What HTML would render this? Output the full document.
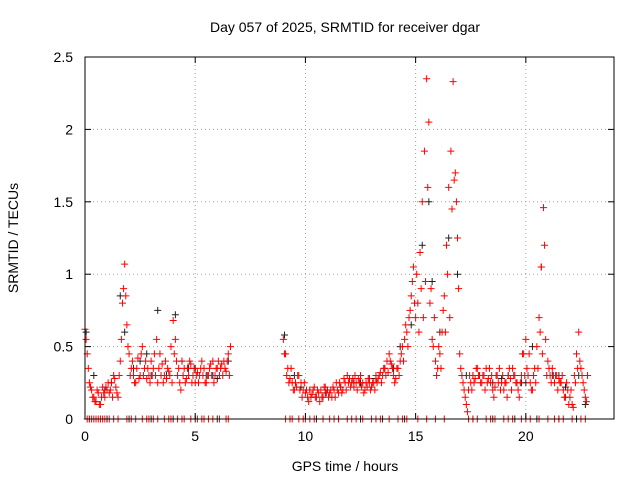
<!DOCTYPE html>
<html><head><meta charset="utf-8"><style>
body{margin:0;background:#fff;}
svg{display:block;font-family:"Liberation Sans",sans-serif;}
</style></head><body>
<svg id="chart" width="640" height="480">
<text x="345" y="32" font-size="14" text-anchor="middle">Day 057 of 2025, SRMTID for receiver dgar</text>
<text x="345" y="471" font-size="14" text-anchor="middle">GPS time / hours</text>
<text transform="translate(18,238) rotate(-90)" font-size="14" text-anchor="middle">SRMTID / TECUs</text>
<g id="grid"></g><g id="marks"></g><g id="axes"></g>
</svg>
<script>
const xTicks=[0,5,10,15,20];
const yTicks=[0,0.5,1,1.5,2,2.5];
const yTickLabels=["0","0.5","1","1.5","2","2.5"];
const seg1Start=0.0, seg2Start=9.0, seg1bStart=0.05, seg2bStart=9.05, sampleStep=0.1;
const redSeg1=[0.62,0.45,0.25,0.2,0.15,0.12,0.18,0.1,0.22,0.15,0.2,0.18,0.25,0.3,0.22,0.15,0.4,0.8,1.07,0.65,0.45,0.35,0.3,0.25,0.42,0.3,0.5,0.35,0.28,0.3,0.4,0.35,0.3,0.25,0.45,0.38,0.3,0.28,0.33,0.5,0.68,0.55,0.3,0.25,0.4,0.35,0.28,0.3,0.38,0.3,0.25,0.32,0.3,0.4,0.35,0.25,0.3,0.38,0.4,0.3,0.35,0.3,0.38,0.4,0.33,0.45,0.5];
const redSeg1b=[0.55,0.35,0.22,0.15,0.12,0.2,0.1,0.15,0.18,0.22,0.25,0.2,0.15,0.28,0.18,0.3,0.55,0.9,0.85,0.5,0.3,0.4,0.25,0.35,0.28,0.45,0.3,0.4,0.35,0.25,0.3,0.45,0.55,0.35,0.3,0.25,0.4,0.35,0.3,0.25,0.45,0.4,0.35,0.2,0.3,0.25,0.35,0.4,0.25,0.35,0.3,0.25,0.35,0.3,0.25,0.3,0.35,0.3,0.25,0.35,0.4,0.35,0.3,0.35,0.4,0.3];
const redSeg2=[0.55,0.45,0.35,0.28,0.25,0.2,0.22,0.3,0.25,0.2,
0.18,0.15,0.2,0.17,0.22,0.15,0.18,0.2,0.15,0.22,
0.2,0.18,0.15,0.2,0.25,0.18,0.22,0.2,0.25,0.3,
0.28,0.25,0.22,0.25,0.28,0.3,0.25,0.2,0.22,0.25,
0.22,0.25,0.3,0.28,0.32,0.3,0.35,0.4,0.45,0.38,
0.3,0.28,0.35,0.4,0.5,0.55,0.6,0.7,0.85,1.05,
0.7,0.8,1.15,1.5,1.85,2.35,2.05,0.9,0.5,0.4,
0.35,0.45,0.6,0.85,1.2,1.6,1.85,2.33,1.7,1.25,
0.45,0.3,0.2,0.1,0.2,0.25,0.3,0.28,0.35,0.3,
0.25,0.3,0.35,0.28,0.25,0.2,0.22,0.3,0.35,0.25,
0.2,0.25,0.3,0.28,0.35,0.3,0.25,0.15,0.3,0.45,
0.55,0.3,0.25,0.2,0.35,0.5,0.7,1.05,1.46,0.55,
0.4,0.3,0.35,0.25,0.3,0.28,0.25,0.2,0.15,0.2,
0.15,0.1,0.3,0.45,0.6,0.35,0.25,0.15,0.3];
const redSeg2b=[0.45,0.3,0.25,0.35,0.2,0.25,0.3,0.2,0.15,0.25,
0.2,0.12,0.15,0.2,0.15,0.2,0.12,0.15,0.22,0.18,
0.15,0.2,0.22,0.15,0.2,0.25,0.18,0.28,0.2,0.25,
0.22,0.28,0.3,0.2,0.25,0.22,0.18,0.25,0.28,0.2,
0.25,0.2,0.25,0.3,0.25,0.35,0.3,0.32,0.4,0.35,
0.25,0.35,0.3,0.45,0.4,0.65,0.5,0.75,0.95,0.8,
1.0,0.6,0.9,0.7,0.95,1.6,0.8,0.55,0.7,0.3,
0.5,0.35,0.75,0.6,1.0,0.7,1.45,1.65,1.5,0.9,
0.35,0.25,0.15,0.05,0.3,0.2,0.25,0.35,0.3,0.25,
0.3,0.2,0.25,0.35,0.3,0.15,0.3,0.25,0.2,0.3,
0.25,0.15,0.35,0.2,0.3,0.25,0.2,0.25,0.45,0.3,
0.35,0.45,0.2,0.3,0.25,0.35,0.6,0.45,1.2,0.3,
0.35,0.25,0.3,0.3,0.2,0.25,0.3,0.15,0.25,0.1,
0.2,0.08,0.25,0.35,0.4,0.3,0.2,0.12];
const redZeroHours=[0.1,0.2,0.3,0.4,0.5,0.6,0.7,0.8,0.9,1.1,1.3,1.5,1.9,2.1,2.3,2.6,2.8,2.9,3.1,3.3,3.6,3.8,3.9,4.2,4.4,4.5,4.8,5.1,5.3,5.4,5.6,5.8,6.1,6.4,6.5,9.1,9.3,9.4,9.7,9.9,10.0,10.2,10.4,10.8,11.1,11.3,11.5,11.9,12.1,12.3,12.6,13.0,13.2,13.4,13.8,14.2,14.4,14.6,15.1,15.5,15.9,16.3,17.4,17.6,17.8,18.2,18.4,18.6,19.0,19.2,19.4,19.8,20.0,20.2,20.6,21.0,21.3,21.5,21.7,22.1,22.5,22.7];
const blackHours=[0.05,0.4,0.9,1.6,1.8,2.2,2.8,3.3,3.7,4.1,4.4,5.0,5.5,6.0,6.5,9.05,9.5,10.2,10.9,11.6,12.2,12.9,13.6,14.3,14.8,15.3,15.6,15.75,16.1,16.5,16.9,17.3,17.9,18.5,19.2,19.8,20.3,20.7,21.2,21.8,22.4,22.7,1.2,2.5,3.0,4.7,5.8,9.8,11.0,12.5,13.2,14.0,17.6,18.9,20.0,21.5];
const blackValues=[0.6,0.3,0.2,0.85,0.6,0.35,0.45,0.75,0.3,0.72,0.4,0.35,0.3,0.28,0.4,0.58,0.3,0.2,0.18,0.22,0.25,0.28,0.35,0.5,0.65,1.2,1.5,0.95,0.6,1.25,1.0,0.3,0.3,0.25,0.3,0.25,0.5,1.05,0.3,0.22,0.3,0.1,0.25,0.4,0.3,0.35,0.3,0.22,0.2,0.25,0.28,0.35,0.3,0.28,0.25,0.3];
const blackZeroHours=[0.2,1.0,2.0,3.0,4.0,5.0,6.0,9.3,10.5,11.5,12.5,13.5,14.5,17.6,18.5,19.5,20.5,21.5,22.3];

const X0=85,X1=614,Y0=419,Y1=57,XMAX=24,YMAX=2.5;
const xs=h=>X0+(X1-X0)*h/XMAX;
const ys=v=>Y0-(Y0-Y1)*v/YMAX;
const NS="http://www.w3.org/2000/svg";
const grid=document.getElementById('grid'),marks=document.getElementById('marks'),axes=document.getElementById('axes');
function mk(tag,attrs,parent){const e=document.createElementNS(NS,tag);for(const k in attrs)e.setAttribute(k,attrs[k]);parent.appendChild(e);return e;}
xTicks.forEach(t=>{
  const x=xs(t);
  const g=mk('line',{x1:x,x2:x,y1:Y1,y2:Y0,stroke:'#a0a0a0','stroke-dasharray':'1,3'},grid);
  
  
  mk('line',{x1:x,x2:x,y1:Y0,y2:Y0-6,stroke:'#000'},axes);
  mk('line',{x1:x,x2:x,y1:Y1,y2:Y1+6,stroke:'#000'},axes);
  const l=mk('text',{x:x,y:Y0+22,'font-size':14,'text-anchor':'middle'},axes);
  l.textContent=String(t);
  
  
});
yTicks.forEach((t,i)=>{
  const y=ys(t);
  const g=mk('line',{x1:X0,x2:X1,y1:y,y2:y,stroke:'#a0a0a0','stroke-dasharray':'1,3'},grid);
  
  
  mk('line',{x1:X0,x2:X0+6,y1:y,y2:y,stroke:'#000'},axes);
  mk('line',{x1:X1,x2:X1-6,y1:y,y2:y,stroke:'#000'},axes);
  const l=mk('text',{x:X0-12,y:y+5,'font-size':14,'text-anchor':'end'},axes);
  l.textContent=yTickLabels[i];
  
  
});
const frame=mk('rect',{x:X0,y:Y1,width:X1-X0,height:Y0-Y1,fill:'none',stroke:'#000'},axes);


function plus(h,v,color,name){
  const x=xs(h),y=ys(v);
  const p=mk('path',{d:`M${x-3.5},${y}H${x+3.5}M${x},${y-3.5}V${y+3.5}`,stroke:color,'stroke-width':1,fill:'none'},marks);
  
  
}
blackHours.forEach((h,i)=>plus(h,blackValues[i],'#202020','black-point'));
blackZeroHours.forEach(h=>plus(h,0,'#202020','black-zero-point'));
redSeg1.forEach((v,i)=>plus(seg1Start+i*sampleStep,v,'#ff0000','red-point'));
redSeg1b.forEach((v,i)=>plus(seg1bStart+i*sampleStep,v,'#ff0000','red-point'));
redSeg2.forEach((v,i)=>plus(seg2Start+i*sampleStep,v,'#ff0000','red-point'));
redSeg2b.forEach((v,i)=>plus(seg2bStart+i*sampleStep,v,'#ff0000','red-point'));
redZeroHours.forEach(h=>plus(h,0,'#ff0000','red-zero-point'));
</script>
</body></html>
